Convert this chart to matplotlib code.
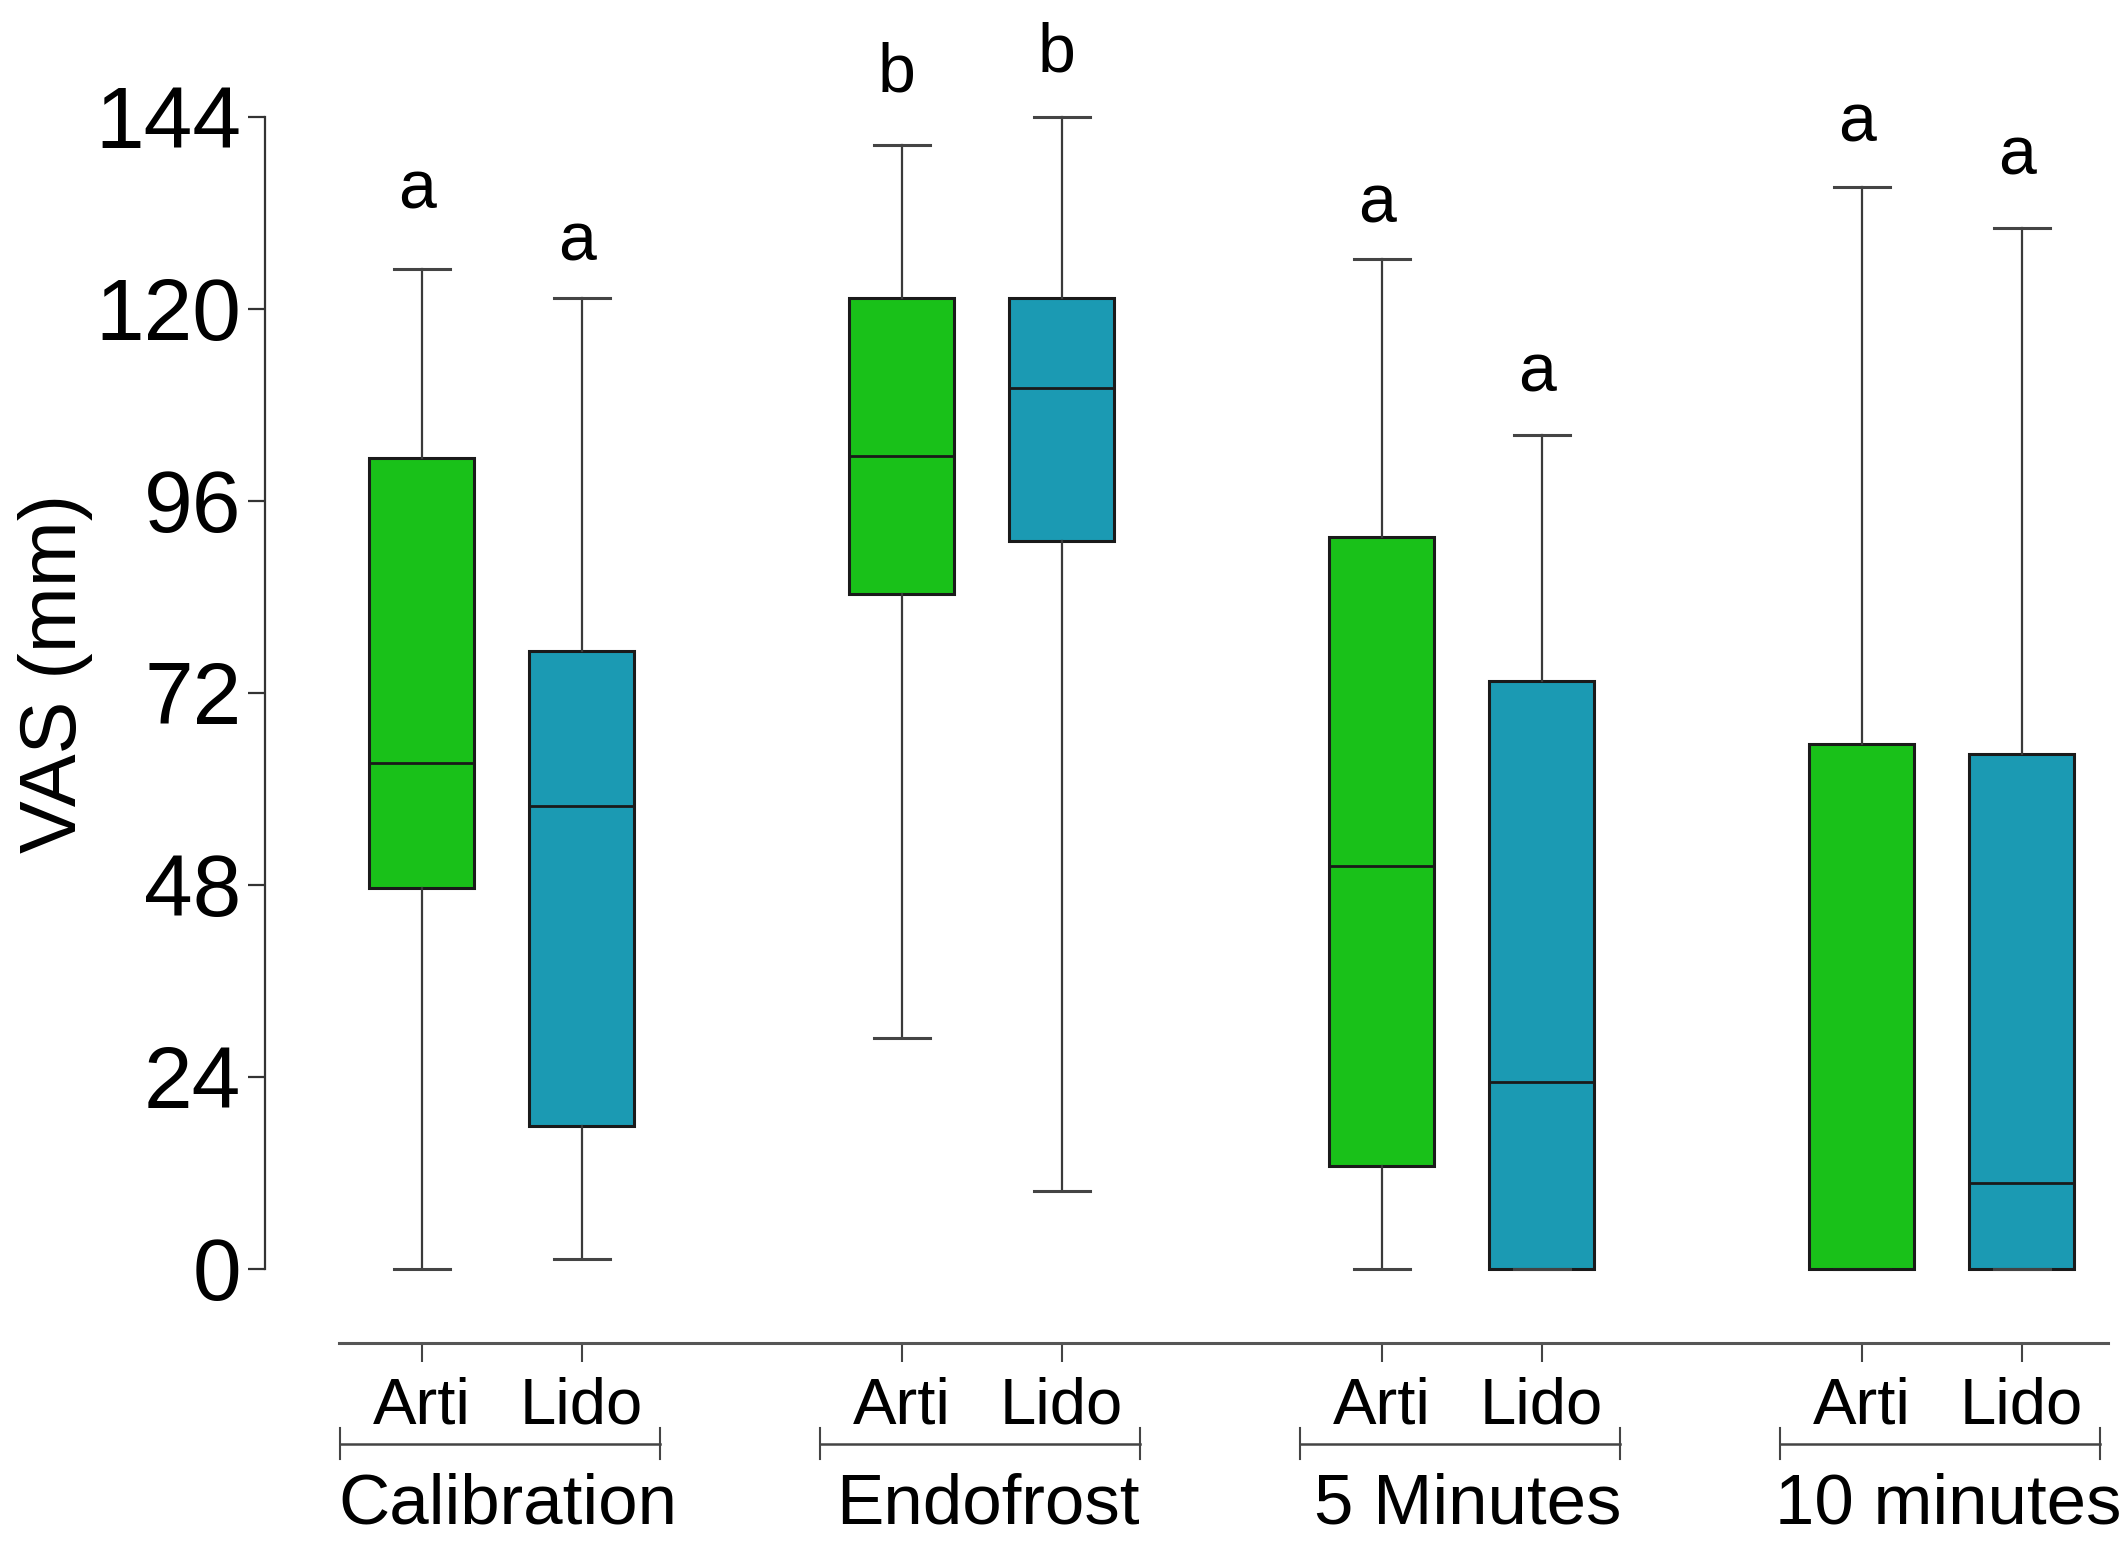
import numpy as np
import matplotlib
matplotlib.use("Agg")
import matplotlib.pyplot as plt

plt.rcParams['font.family'] = ['Liberation Sans', 'DejaVu Sans']

# data (VAS, mm)
groups = ['Calibration', 'Endofrost', '5 Minutes', '10 minutes']
drugs = ['Arti', 'Lido']
whislo = [0.0, 1.2, 28.8, 9.8, 0.0, 0.0, 0.0, 0.0]
q1 = [47.6, 17.8, 84.4, 91.0, 12.9, 0.0, 0.0, 0.0]
med = [63.2, 57.9, 101.6, 110.1, 50.3, 23.4, 0.0, 10.7]
q3 = [101.3, 77.2, 121.3, 121.3, 91.5, 73.5, 65.6, 64.4]
whishi = [125.0, 121.3, 140.4, 144.0, 126.2, 104.2, 135.2, 130.1]
letters = ['a', 'a', 'b', 'b', 'a', 'a', 'a', 'a']
letter_y = [132.5, 126.0, 147.1, 149.6, 130.8, 109.6, 140.9, 136.7]

colors = ['#19c119', '#1b9ab3']
positions = [1, 2, 4, 5, 7, 8, 10, 11]

fig = plt.figure(figsize=(21.26, 15.47), dpi=100)
ax = fig.add_axes([0.1246, 0.1319, 0.8669, 0.8238])

stats = []
for i in range(len(positions)):
    stats.append(dict(whislo=whislo[i], q1=q1[i], med=med[i], q3=q3[i],
                      whishi=whishi[i], fliers=[]))

bp = ax.bxp(stats, positions=positions, widths=0.66, patch_artist=True,
            showfliers=False, capwidths=0.35,
            boxprops=dict(edgecolor='#1a1a1a', linewidth=2.2),
            medianprops=dict(color='#1a1a1a', linewidth=2.0),
            whiskerprops=dict(color='#3a3a3a', linewidth=1.6),
            capprops=dict(color='#444444', linewidth=2.2))
for i, box in enumerate(bp['boxes']):
    box.set_facecolor(colors[i % 2])

for i in range(len(positions)):
    ax.text(positions[i] - 0.03, letter_y[i], letters[i], ha='center', va='baseline',
            fontsize=49, clip_on=False)

ax.set_xlim(0.021, 11.54)
ax.set_ylim(-9.25, 150)

ax.spines['top'].set_visible(False)
ax.spines['right'].set_visible(False)
ax.spines['left'].set_bounds(0, 144)
ax.spines['bottom'].set_bounds(0.483, 11.54)
ax.spines['left'].set_linewidth(1.6)
ax.spines['left'].set_color('#333333')
ax.spines['bottom'].set_linewidth(2.2)
ax.spines['bottom'].set_color('#555555')

ax.set_yticks([0, 24, 48, 72, 96, 120, 144])
ax.tick_params(axis='y', labelsize=63, length=12, width=1.6, pad=5, color='#333333')
ax.set_xticks(positions)
ax.set_xticklabels([])
ax.tick_params(axis='x', length=14, width=1.5, color='#444444')

# drug labels, brackets and group labels under the axis
for g in range(len(groups)):
    pa = positions[2 * g]
    pl = positions[2 * g + 1]
    ax.text(pa, -19.3, drugs[0], ha='center', va='baseline', fontsize=47, clip_on=False)
    ax.text(pl, -19.3, drugs[1], ha='center', va='baseline', fontsize=47, clip_on=False)
    x0, x1 = pa - 0.51, pl + 0.49
    ax.plot([x0, x1], [-21.9, -21.9], color='#444444', lw=1.8, clip_on=False)
    ax.plot([x0, x0], [-19.9, -23.8], color='#444444', lw=1.5, clip_on=False)
    ax.plot([x1, x1], [-19.9, -23.8], color='#444444', lw=1.5, clip_on=False)
    ax.text((x0 + x1) / 2 + 0.05, -31.8, groups[g], ha='center', va='baseline',
            fontsize=51, clip_on=False)

fig.text(0.026, 0.565, 'VAS (mm)', rotation=90, ha='center', va='center', fontsize=57)

fig.savefig('out.png', dpi=100, facecolor='white')
